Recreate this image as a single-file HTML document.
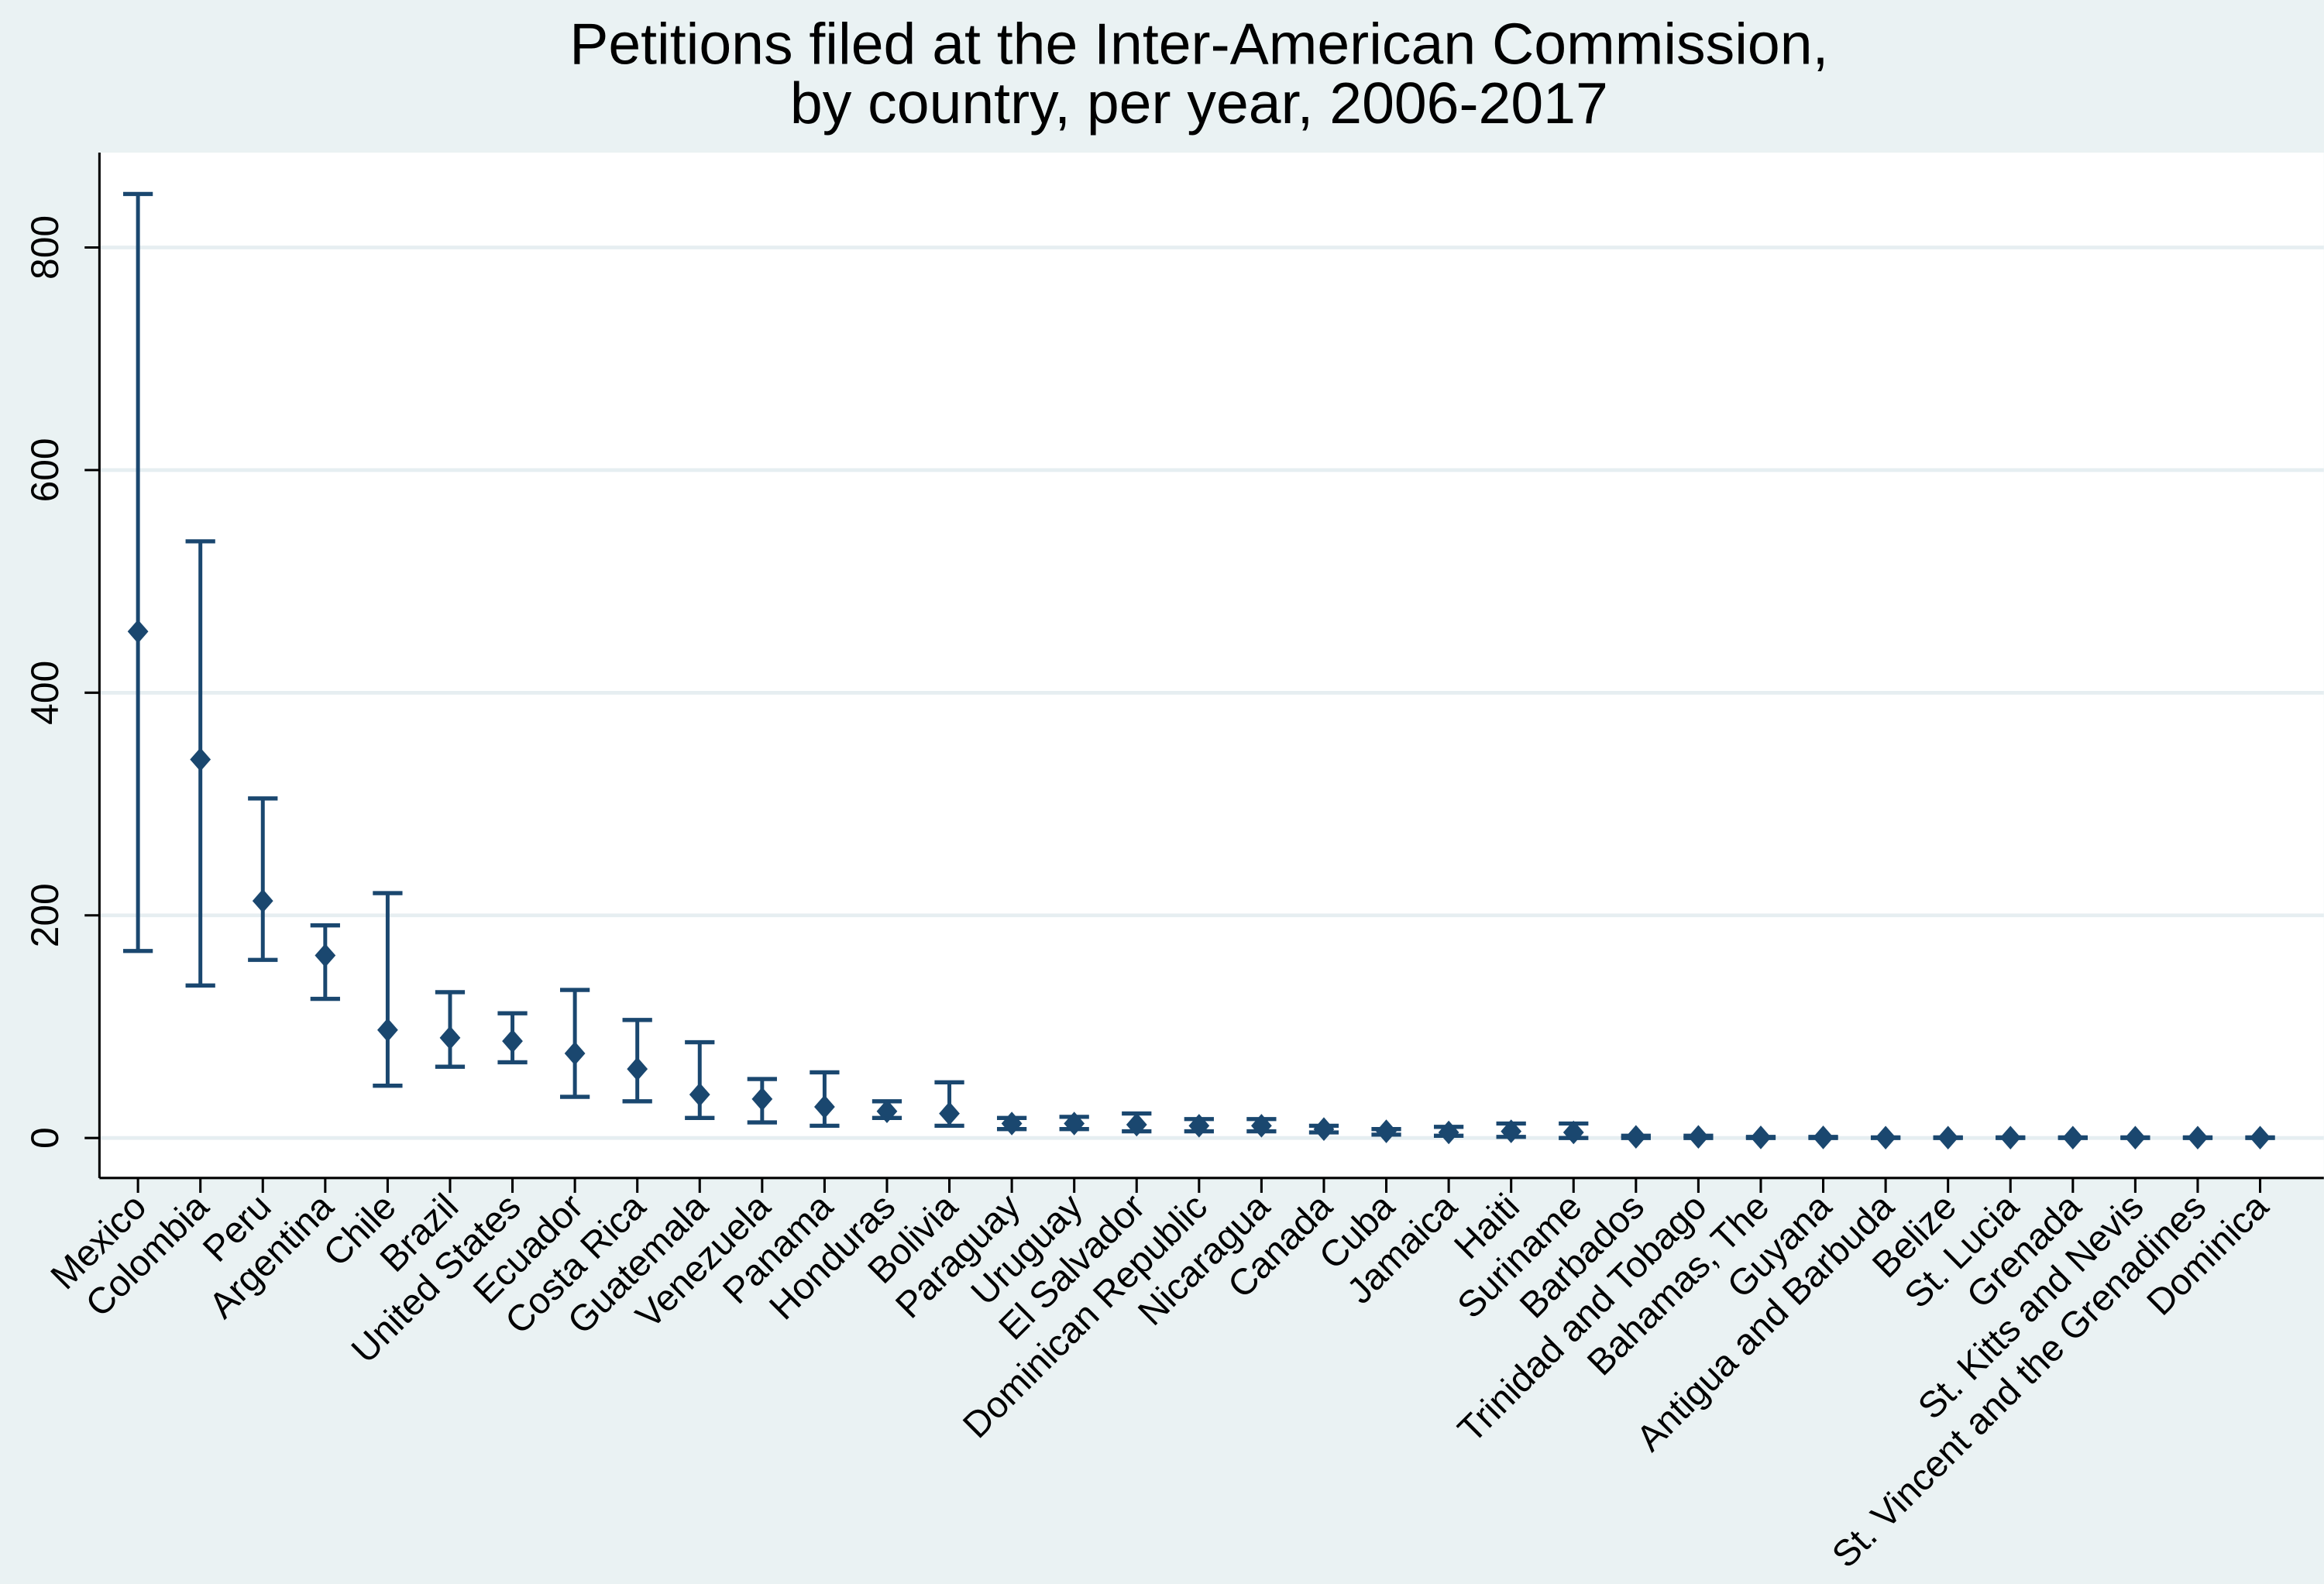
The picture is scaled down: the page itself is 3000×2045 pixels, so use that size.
<!DOCTYPE html>
<html><head><meta charset="utf-8"><style>
html,body{margin:0;padding:0;background:#eaf2f3;}
svg{display:block;font-family:"Liberation Sans",Arial,sans-serif;}
</style></head><body>
<svg id="chart" width="3000" height="2045" viewBox="0 0 1568 1069" xmlns="http://www.w3.org/2000/svg">
<rect x="0" y="0" width="1568" height="1069" fill="#eaf2f3"/>
<rect x="67" y="103" width="1501" height="692" fill="#ffffff"/>
<text x="809" y="43" text-anchor="middle" font-size="39.3" fill="#000">Petitions filed at the Inter-American Commission,</text>
<text x="809" y="83" text-anchor="middle" font-size="39.3" fill="#000">by country, per year, 2006-2017</text>
<g id="grid"></g><g id="axes"></g><g id="marks"></g><g id="xlabels"></g>
</svg>
<script>
const categories=["Mexico","Colombia","Peru","Argentina","Chile","Brazil","United States","Ecuador","Costa Rica","Guatemala","Venezuela","Panama","Honduras","Bolivia","Paraguay","Uruguay","El Salvador","Dominican Republic","Nicaragua","Canada","Cuba","Jamaica","Haiti","Suriname","Barbados","Trinidad and Tobago","Bahamas, The","Guyana","Antigua and Barbuda","Belize","St. Lucia","Grenada","St. Kitts and Nevis","St. Vincent and the Grenadines","Dominica"];
const means=[455,340,213,164,97,90,87,76,62,39,35,28,24,22,13,13,12,11,11,8,6,5,6,5,1,1,0.5,0.5,0.3,0.3,0.3,0.3,0.3,0.3,0.3];
const upper=[848,536,305,191,220,131,112,133,106,86,53,59,33,50,18,19,22,17,17,11,8,10,13,13,2,2,1,1,0.5,0.5,0.5,0.5,0.5,0.5,0.5];
const lower=[168,137,160,125,47,64,68,37,33,18,14,11,18,11,8,8,6,6,6,5,3,2,1,0,0,0,0,0,0,0,0,0,0,0,0];
const yTicks=[0,200,400,600,800];
const NS="http://www.w3.org/2000/svg";
const X0=93,X1=1525,Y0=768,PER=150.25/200;
const xs=i=>X0+i*(X1-X0)/(categories.length-1);
const ys=v=>Y0-v*PER;
const C="#1a476f";
function mk(tag,attrs,parent){const e=document.createElementNS(NS,tag);for(const k in attrs)e.setAttribute(k,attrs[k]);document.getElementById(parent).appendChild(e);return e;}
yTicks.forEach(t=>{
  const g=mk('line',{x1:67,x2:1568,y1:ys(t),y2:ys(t),stroke:'#e6eef1','stroke-width':2.5},'grid');
  
  
  const tk=mk('line',{x1:57,x2:67,y1:ys(t),y2:ys(t),stroke:'#000','stroke-width':1.6},'axes');
  
  
  const tx=mk('text',{x:0,y:0,'font-size':26,'text-anchor':'middle',transform:`translate(39,${ys(t)}) rotate(-90)`},'axes');
  tx.textContent=t;
  
  
});
const ya=mk('line',{x1:67,x2:67,y1:103,y2:795,stroke:'#000','stroke-width':1.6},'axes');


const xa=mk('line',{x1:67,x2:1568,y1:795,y2:795,stroke:'#000','stroke-width':1.6},'axes');


categories.forEach((c,i)=>{
  const x=xs(i);
  const tk=mk('line',{x1:x,x2:x,y1:795,y2:805,stroke:'#000','stroke-width':1.6},'axes');
  
  
  const lab=mk('text',{x:0,y:0,'font-size':24.8,'text-anchor':'end',transform:`translate(${x+7},${816}) rotate(-45)`},'xlabels');
  lab.textContent=c;
  
  
  const g=mk('g',{},'marks');
  
  
  const add=(t,a)=>{const e=document.createElementNS(NS,t);for(const k in a)e.setAttribute(k,a[k]);g.appendChild(e);return e;};
  add('line',{x1:x,x2:x,y1:ys(upper[i]),y2:ys(lower[i]),stroke:C,'stroke-width':2.6});
  add('line',{x1:x-10,x2:x+10,y1:ys(upper[i]),y2:ys(upper[i]),stroke:C,'stroke-width':2.8});
  add('line',{x1:x-10,x2:x+10,y1:ys(lower[i]),y2:ys(lower[i]),stroke:C,'stroke-width':2.8});
  const y=ys(means[i]);
  add('polygon',{points:`${x},${y-8} ${x+7},${y} ${x},${y+8} ${x-7},${y}`,fill:C});
});
</script>
</body></html>
